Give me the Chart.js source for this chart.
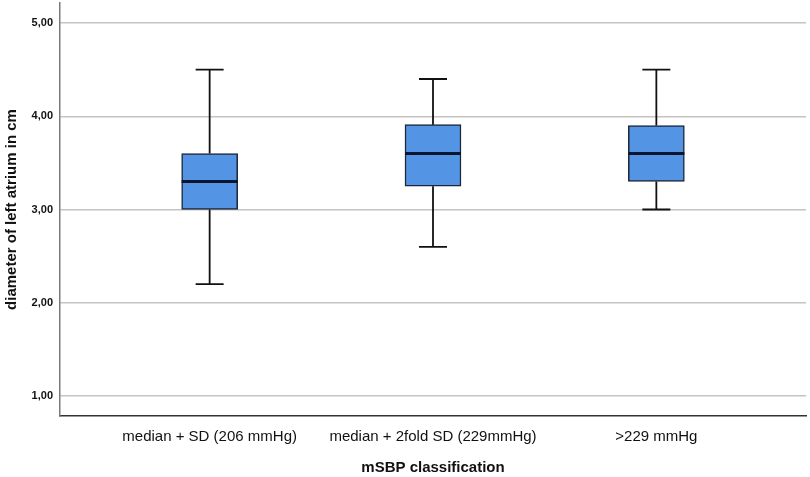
<!DOCTYPE html>
<html>
<head>
<meta charset="utf-8">
<script src="https://cdn.jsdelivr.net/npm/chart.js@4.4.1/dist/chart.umd.min.js"></script>
<style>
  html, body { margin: 0; padding: 0; background: #fff; }
  #wrap { width: 810px; height: 477px; }
</style>
</head>
<body>
<div id="wrap"><canvas id="chart" width="810" height="477"></canvas></div>
<script>
// box plot values
const categories = ["median + SD (206 mmHg)", "median + 2fold SD (229mmHg)", ">229 mmHg"];
const whiskerLow = [2.2, 2.6, 3.0];
const q1 = [3.0, 3.25, 3.3];
const median = [3.3, 3.6, 3.6];
const q3 = [3.6, 3.91, 3.9];
const whiskerHigh = [4.5, 4.4, 4.5];
const yTicks = [1, 2, 3, 4, 5];

const sans = "'Liberation Sans', Arial, sans-serif";

// whiskers, caps and median line on top of the floating bars
const whiskerPlugin = {
  id: "whiskers",
  afterDatasetsDraw(chart) {
    const ctx = chart.ctx;
    const xs = chart.scales.x;
    const ys = chart.scales.y;
    const boxHalf = 28;
    const capHalf = 14;
    ctx.save();
    categories.forEach((c, i) => {
      const x = xs.getPixelForValue(i);
      const yHi = ys.getPixelForValue(whiskerHigh[i]);
      const yLo = ys.getPixelForValue(whiskerLow[i]);
      const yQ1 = ys.getPixelForValue(q1[i]);
      const yQ3 = ys.getPixelForValue(q3[i]);
      const yMed = ys.getPixelForValue(median[i]);

      ctx.strokeStyle = "#111";
      ctx.lineWidth = 1.8;
      ctx.beginPath();
      ctx.moveTo(x, yHi); ctx.lineTo(x, yQ3);
      ctx.moveTo(x, yQ1); ctx.lineTo(x, yLo);
      ctx.moveTo(x - capHalf, yHi); ctx.lineTo(x + capHalf, yHi);
      ctx.moveTo(x - capHalf, yLo); ctx.lineTo(x + capHalf, yLo);
      ctx.stroke();

      ctx.strokeStyle = "#0b1530";
      ctx.lineWidth = 3;
      ctx.beginPath();
      ctx.moveTo(x - boxHalf, yMed); ctx.lineTo(x + boxHalf, yMed);
      ctx.stroke();
    });
    ctx.restore();
  }
};

new Chart(document.getElementById("chart"), {
  type: "bar",
  data: {
    datasets: [{
      data: categories.map((c, i) => ({ x: i, y: [q1[i], q3[i]] })),
      backgroundColor: "#5394e4",
      borderColor: "#1c2638",
      borderWidth: 1.5,
      borderSkipped: false,
      barThickness: 56
    }]
  },
  options: {
    responsive: false,
    animation: false,
    devicePixelRatio: 1,
    layout: { padding: { left: 3, right: 4, top: 3, bottom: 0 } },
    plugins: {
      legend: { display: false },
      tooltip: { enabled: false }
    },
    scales: {
      x: {
        type: "linear",
        offset: false,
        min: -0.67,
        max: 2.67,
        afterBuildTicks: (scale) => { scale.ticks = categories.map((c, i) => ({ value: i })); },
        afterFit: (scale) => { scale.height = 61; scale.paddingLeft = 0; scale.paddingRight = 0; },
        grid: { display: false, drawTicks: false },
        border: { display: true, color: "#333", width: 1.5 },
        ticks: {
          padding: 12,
          color: "#111",
          autoSkip: false,
          maxRotation: 0,
          minRotation: 0,
          font: { family: sans, size: 15 },
          callback: (v) => categories[v]
        },
        title: {
          display: true,
          text: "mSBP classification",
          color: "#111",
          padding: { top: 0, bottom: 0 },
          font: { family: sans, size: 15, weight: "bold" }
        }
      },
      y: {
        min: 0.785,
        max: 5.215,
        afterBuildTicks: (scale) => { scale.ticks = yTicks.map(v => ({ value: v })); },
        afterFit: (scale) => { scale.width = 57; scale.paddingTop = 0; scale.paddingBottom = 0; },
        grid: { color: "#c4c4c4", lineWidth: 1.5, drawTicks: false },
        border: { display: true, color: "#7a7a7a", width: 1.5 },
        ticks: {
          padding: 7,
          color: "#111",
          font: { family: sans, size: 11, weight: "bold" },
          callback: (v) => v.toFixed(2).replace(".", ",")
        },
        title: {
          display: true,
          text: "diameter of left atrium in cm",
          color: "#111",
          padding: { top: 0, bottom: 0 },
          font: { family: sans, size: 15, weight: "bold" }
        }
      }
    }
  },
  plugins: [whiskerPlugin]
});
</script>
</body>
</html>
